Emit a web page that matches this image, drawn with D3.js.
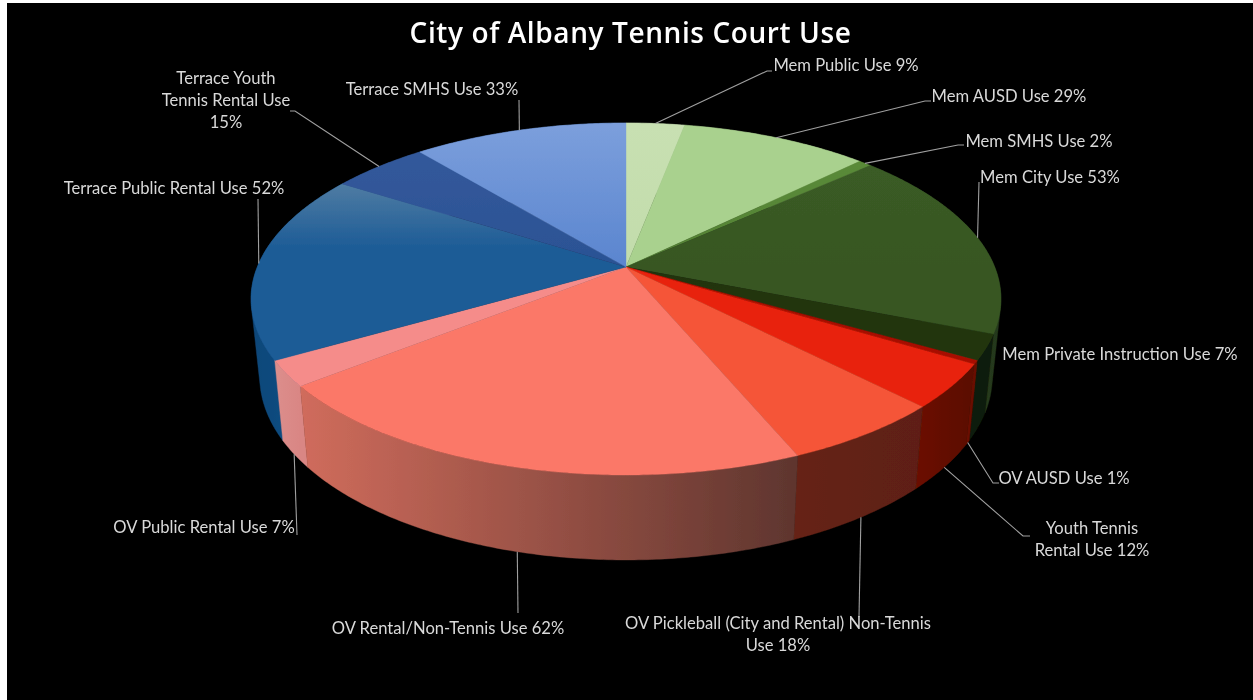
<!DOCTYPE html>
<html>
<head>
<meta charset="utf-8">
<script src="https://cdn.jsdelivr.net/npm/d3@7"></script>
<style>
  html, body { margin: 0; padding: 0; background: #fff; overflow: hidden; }
  svg { display: block; }
</style>
</head>
<body>
<script>
const titleText = "City of Albany Tennis Court Use";

// \n marks where the label wraps
const categories = [
    "Mem Public Use", "Mem AUSD Use", "Mem SMHS Use", "Mem City Use",
    "Mem Private Instruction Use", "OV AUSD Use", "Youth Tennis\nRental Use",
    "OV Pickleball (City and Rental) Non-Tennis\nUse", "OV Rental/Non-Tennis Use",
    "OV Public Rental Use", "Terrace Public Rental Use",
    "Terrace Youth\nTennis Rental Use\n", "Terrace SMHS Use"
];
const values = [9, 29, 2, 53, 7, 1, 12, 18, 62, 7, 52, 15, 33];

const topColors = [
    ["#c8e0b2", "#c2dcab"], ["#a9d18e", "#a9d18e"], ["#5a8a38", "#548235"], ["#3a5b25", "#385723"],
    ["#22360f", "#22330f"], ["#a81000", "#a81000"], ["#e8210a", "#e8210a"], ["#f55537", "#f55537"],
    ["#fb7868", "#fb7868"], ["#f58c8a", "#f58c8a"], ["#4f7ca3", "#1b5b96"], ["#33599b", "#2b5294"],
    ["#7c9fdc", "#5a85cf"]
];
const wallColors = [
    ["#8fa582", "#8fa582"], ["#7d9a68", "#7d9a68"], ["#3c5e26", "#3c5e26"], ["#2f4a1e", "#24381a"],
    ["#0f1a08", "#0f1a08"], ["#6b0c00", "#6b0c00"], ["#6a1000", "#5a0d00"], ["#662215", "#5e1f14"],
    ["#d06c5c", "#5e352e"], ["#dc8e8c", "#d98684"], ["#0f4678", "#15578f"], ["#20406f", "#20406f"],
    ["#40639c", "#40639c"]
];

// layout of the labels, separate from the data
const labelX = [846, 1009, 1039, 1050, 1120, 1064, 1092, 778, 448, 204, 174, 226, 432];
const labelY = [71, 102, 147, 183, 360, 484, 534, 629, 634, 533, 194, 84, 95];
const lineStep = 22;
// elbow points of each leader, null where the label has none
const leaderEnds = [
    [[767, 71], [772, 71]],
    [[925, 101], [931, 101]],
    [[958, 145], [964, 145]],
    [[979, 182]],
    null,
    [[993, 483], [999, 483]],
    [[1023, 536], [1030, 536]],
    [[859, 617]],
    [[518, 613]],
    [[297, 535]],
    [[258, 199]],
    [[295, 111], [290, 111]],
    [[519, 100]]
];
// leaders of the front slices start on the lower rim
const leaderOnBase = [false, false, false, false, false, true, true, true, true, true, false, false, false];
// these two walls hold the silhouette tangents, so they are drawn as hulls
const hullWalls = [3, 10];

const w = 1253, h = 700;

const svg = d3.select("body").append("svg")
    .attr("width", w)
    .attr("height", h);

svg.append("rect")
    .attr("x", 7).attr("y", 3)
    .attr("width", w - 7).attr("height", h - 3)
    .attr("fill", "#000");

// the reference is a soft screenshot
const soft = svg.append("filter").attr("id", "soft")
    .attr("x", 0).attr("y", 0).attr("width", w).attr("height", h)
    .attr("filterUnits", "userSpaceOnUse");
soft.append("feGaussianBlur").attr("stdDeviation", 0.4);

const chart = svg.append("g").attr("filter", "url(#soft)");

// disc -> screen, one point perspective
const cx = 626, cy = 267, rx = 368.7, ry = 170.2, persp = 0.1818;
const project = function (a) {
    const u = Math.sin(a), v = Math.cos(a), k = 1 + persp * v;
    return [cx + rx * u / k, cy - ry * v / k];
};
// same point on the lower face of the disc
const toBase = function (p) {
    return [cx + 0.977 * (p[0] - cx), 343 + 1.043 * (p[1] - cy)];
};

const slices = d3.pie().sort(null).value(d => d)(values);
const line = d3.line();

const rim = function (d) {
    const n = Math.max(2, Math.ceil((d.endAngle - d.startAngle) / 0.01));
    return d3.range(n + 1).map(i => project(d.startAngle + (d.endAngle - d.startAngle) * i / n));
};

const defs = svg.append("defs");
const wallGrad = defs.selectAll("linearGradient.wall").data(slices).enter().append("linearGradient")
    .attr("class", "wall")
    .attr("id", (d, i) => "wall" + i)
    .attr("gradientUnits", "userSpaceOnUse")
    .attr("x1", d => d3.min(rim(d), p => p[0])).attr("x2", d => d3.max(rim(d), p => p[0]))
    .attr("y1", 0).attr("y2", 0);
wallGrad.append("stop").attr("offset", 0).attr("stop-color", (d, i) => wallColors[i][0]);
wallGrad.append("stop").attr("offset", 1).attr("stop-color", (d, i) => wallColors[i][1]);

const topGrad = defs.selectAll("linearGradient.top").data(slices).enter().append("linearGradient")
    .attr("class", "top")
    .attr("id", (d, i) => "top" + i)
    .attr("gradientUnits", "userSpaceOnUse")
    .attr("x1", 0).attr("x2", 0)
    .attr("y1", d => d3.min(rim(d), p => p[1])).attr("y2", (d, i) => i === 10 ? 250 : cy);
topGrad.append("stop").attr("offset", 0).attr("stop-color", (d, i) => topColors[i][0]);
topGrad.append("stop").attr("offset", 1).attr("stop-color", (d, i) => topColors[i][1]);

// walls first, back to front, then the top face covers what is hidden
const wallOrder = slices.map((d, i) => i)
    .sort((a, b) => d3.mean(rim(slices[a]), p => p[1]) - d3.mean(rim(slices[b]), p => p[1]));

chart.append("g").selectAll("path").data(wallOrder).enter().append("path")
    .attr("d", i => {
        const r = rim(slices[i]);
        const outline = r.concat(r.map(toBase).reverse());
        return line(hullWalls.includes(i) ? d3.polygonHull(outline) : outline) + "Z";
    })
    .attr("fill", i => "url(#wall" + i + ")")
    .attr("stroke", i => "url(#wall" + i + ")")
    .attr("stroke-width", 0.4);

chart.append("g").selectAll("path").data(slices).enter().append("path")
    .attr("d", d => line([[cx, cy]].concat(rim(d))) + "Z")
    .attr("fill", (d, i) => "url(#top" + i + ")")
    .attr("stroke", (d, i) => "url(#top" + i + ")")
    .attr("stroke-width", 0.4);

// leaders
chart.append("g").selectAll("path").data(slices).enter().append("path")
    .filter((d, i) => leaderEnds[i] !== null)
    .attr("d", d => {
        const i = d.index;
        const p = project((d.startAngle + d.endAngle) / 2);
        return line([leaderOnBase[i] ? toBase(p) : p].concat(leaderEnds[i]));
    })
    .attr("fill", "none")
    .attr("stroke", "#a0a0a0")
    .attr("stroke-width", 1.1);

// labels
const labels = chart.append("g")
    .attr("font-family", "Lato, 'Open Sans', sans-serif")
    .attr("font-size", 16.6)
    .attr("fill", "#d9d9d9")
    .attr("text-anchor", "middle");

categories.forEach(function (c, i) {
    const lines = (c + " " + values[i] + "%").split("\n").map(s => s.trim());
    const t = labels.append("text");
    lines.forEach(function (s, j) {
        t.append("tspan")
            .attr("x", labelX[i])
            .attr("y", labelY[i] + j * lineStep)
            .text(s);
    });
});

chart.append("text")
    .attr("x", 630.5)
    .attr("y", 43)
    .attr("text-anchor", "middle")
    .attr("font-family", "'Open Sans', sans-serif")
    .attr("font-weight", 600)
    .attr("font-size", 28)
    .attr("letter-spacing", 0.6)
    .attr("fill", "#fff")
    .text(titleText);
</script>
</body>
</html>
